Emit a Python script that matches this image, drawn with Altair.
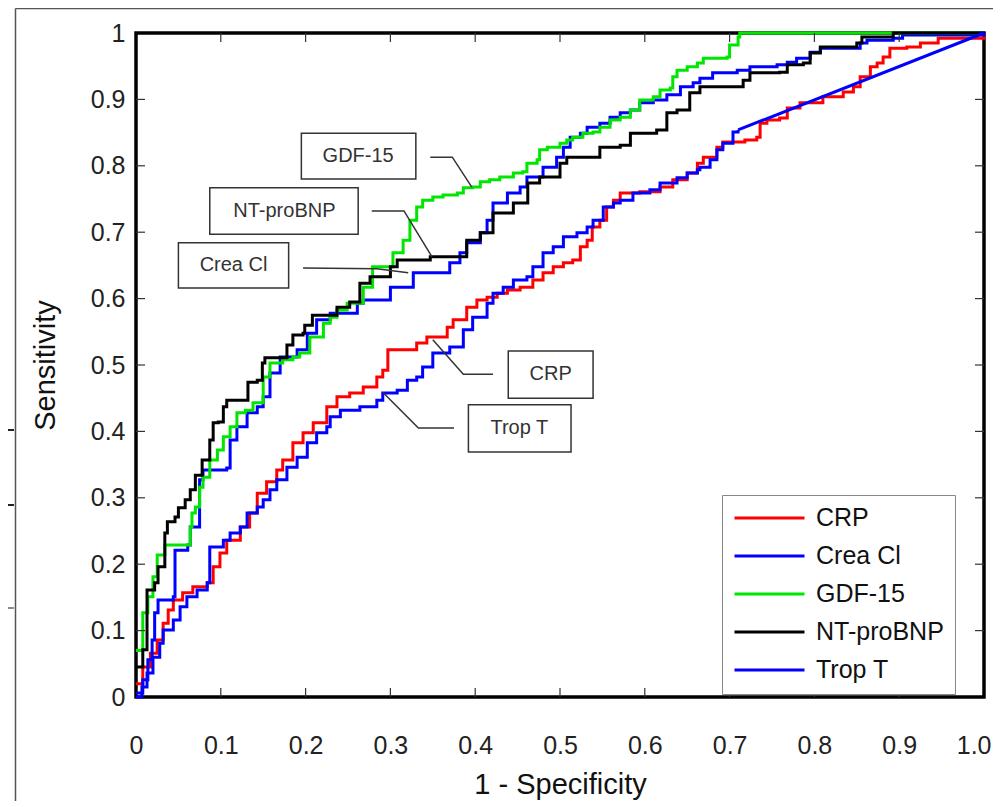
import altair as alt
import pandas as pd

# ---------------- data ----------------
series_names = ["CRP", "Crea Cl", "GDF-15", "NT-proBNP", "Trop T"]
series_colors = ["#ff0000", "#0000ff", "#00e600", "#000000", "#0000ff"]

crp_fpr = [0.0, 0.008, 0.017, 0.025, 0.032, 0.038, 0.044, 0.055, 0.067, 0.084, 0.091, 0.099, 0.107, 0.123,
           0.134, 0.143, 0.154, 0.166, 0.173, 0.185, 0.197, 0.209, 0.225, 0.237, 0.252, 0.268, 0.284, 0.291,
           0.297, 0.320, 0.331, 0.343, 0.355, 0.367, 0.374, 0.390, 0.402, 0.414, 0.426, 0.438, 0.453, 0.468,
           0.480, 0.492, 0.504, 0.515, 0.524, 0.532, 0.538, 0.547, 0.555, 0.563, 0.571, 0.594, 0.618, 0.633,
           0.650, 0.662, 0.669, 0.685, 0.692, 0.718, 0.732, 0.736, 0.744, 0.759, 0.768, 0.783, 0.810, 0.827,
           0.834, 0.846, 0.854, 0.866, 0.874, 0.881, 0.889, 0.909, 0.925, 0.946, 1.0]
crp_tpr = [0.02, 0.045, 0.066, 0.086, 0.111, 0.131, 0.146, 0.157, 0.166, 0.172, 0.196, 0.217, 0.236, 0.256,
           0.277, 0.307, 0.324, 0.342, 0.357, 0.383, 0.398, 0.413, 0.437, 0.452, 0.458, 0.467, 0.482, 0.492,
           0.523, 0.523, 0.533, 0.542, 0.542, 0.557, 0.568, 0.587, 0.598, 0.602, 0.608, 0.613, 0.617, 0.628,
           0.639, 0.648, 0.654, 0.658, 0.678, 0.688, 0.708, 0.718, 0.738, 0.748, 0.759, 0.761, 0.768, 0.779,
           0.789, 0.804, 0.813, 0.828, 0.836, 0.839, 0.843, 0.864, 0.869, 0.872, 0.887, 0.895, 0.904, 0.904,
           0.911, 0.919, 0.934, 0.949, 0.955, 0.964, 0.977, 0.979, 0.985, 0.992, 1.0]

crea_fpr = [0.0, 0.008, 0.014, 0.019, 0.022, 0.026, 0.044, 0.046, 0.061, 0.064, 0.075, 0.079, 0.107, 0.111,
            0.119, 0.131, 0.143, 0.150, 0.158, 0.170, 0.190, 0.202, 0.213, 0.229, 0.249, 0.261, 0.268, 0.300,
            0.327, 0.362, 0.370, 0.382, 0.390, 0.406, 0.414, 0.421, 0.438, 0.453, 0.461, 0.480, 0.496, 0.504,
            0.512, 0.524, 0.532, 0.547, 0.559, 0.571, 0.583, 0.594, 0.610, 0.626, 0.642, 0.657, 0.665, 0.680,
            0.709, 0.724, 0.756, 0.768, 0.779, 0.795, 0.807, 0.846, 0.854, 0.862, 0.893, 0.904, 1.0]
crea_tpr = [0.006, 0.026, 0.056, 0.086, 0.127, 0.146, 0.151, 0.221, 0.229, 0.256, 0.327, 0.342, 0.345, 0.387,
            0.407, 0.428, 0.437, 0.452, 0.488, 0.512, 0.523, 0.548, 0.568, 0.578, 0.578, 0.593, 0.598, 0.617,
            0.639, 0.639, 0.654, 0.669, 0.684, 0.699, 0.718, 0.744, 0.759, 0.768, 0.783, 0.798, 0.813, 0.828,
            0.843, 0.849, 0.858, 0.864, 0.873, 0.880, 0.884, 0.895, 0.899, 0.907, 0.919, 0.925, 0.932, 0.940,
            0.944, 0.949, 0.952, 0.956, 0.962, 0.971, 0.977, 0.977, 0.985, 0.989, 0.992, 0.997, 1.0]

gdf_fpr = [0.0, 0.008, 0.014, 0.020, 0.025, 0.034, 0.061, 0.064, 0.066, 0.070, 0.075, 0.079, 0.087, 0.096,
           0.103, 0.111, 0.119, 0.129, 0.138, 0.150, 0.158, 0.173, 0.185, 0.193, 0.205, 0.221, 0.229, 0.237,
           0.249, 0.268, 0.279, 0.303, 0.315, 0.323, 0.331, 0.338, 0.350, 0.362, 0.379, 0.386, 0.397, 0.406,
           0.417, 0.429, 0.445, 0.456, 0.461, 0.473, 0.476, 0.485, 0.500, 0.508, 0.515, 0.527, 0.539, 0.547,
           0.559, 0.571, 0.583, 0.594, 0.610, 0.618, 0.630, 0.633, 0.638, 0.650, 0.662, 0.669, 0.697, 0.700,
           0.710, 0.712, 1.0]
gdf_tpr = [0.07, 0.127, 0.151, 0.181, 0.214, 0.229, 0.229, 0.256, 0.277, 0.286, 0.316, 0.331, 0.357, 0.372,
           0.392, 0.407, 0.428, 0.432, 0.443, 0.482, 0.503, 0.508, 0.512, 0.518, 0.542, 0.563, 0.572, 0.583,
           0.593, 0.617, 0.648, 0.669, 0.688, 0.718, 0.738, 0.748, 0.753, 0.756, 0.759, 0.767, 0.768, 0.776,
           0.779, 0.783, 0.789, 0.791, 0.804, 0.809, 0.824, 0.828, 0.834, 0.839, 0.843, 0.849, 0.851, 0.858,
           0.869, 0.873, 0.884, 0.899, 0.904, 0.914, 0.917, 0.934, 0.944, 0.949, 0.955, 0.962, 0.964, 0.982,
           0.994, 1.0, 1.0]

bnp_fpr = [0.0, 0.008, 0.013, 0.022, 0.026, 0.034, 0.037, 0.046, 0.050, 0.058, 0.064, 0.070, 0.078, 0.087,
           0.091, 0.097, 0.103, 0.107, 0.126, 0.132, 0.143, 0.149, 0.152, 0.170, 0.178, 0.185, 0.197, 0.199,
           0.208, 0.229, 0.237, 0.252, 0.264, 0.276, 0.300, 0.308, 0.347, 0.382, 0.390, 0.406, 0.421, 0.445,
           0.462, 0.476, 0.492, 0.500, 0.508, 0.544, 0.547, 0.571, 0.583, 0.614, 0.626, 0.638, 0.653, 0.665,
           0.716, 0.724, 0.759, 0.768, 0.787, 0.795, 0.807, 0.850, 0.856, 0.893, 1.0]
bnp_tpr = [0.045, 0.071, 0.161, 0.172, 0.196, 0.247, 0.264, 0.271, 0.285, 0.297, 0.312, 0.334, 0.357, 0.387,
           0.413, 0.414, 0.437, 0.447, 0.447, 0.474, 0.477, 0.503, 0.511, 0.511, 0.530, 0.545, 0.548, 0.560,
           0.575, 0.575, 0.587, 0.595, 0.623, 0.633, 0.648, 0.658, 0.663, 0.663, 0.688, 0.699, 0.729, 0.744,
           0.774, 0.783, 0.783, 0.804, 0.813, 0.813, 0.828, 0.831, 0.849, 0.854, 0.880, 0.884, 0.910, 0.919,
           0.929, 0.940, 0.941, 0.952, 0.955, 0.970, 0.979, 0.985, 0.994, 1.0, 1.0]

trop_fpr = [0.0, 0.007, 0.013, 0.020, 0.028, 0.032, 0.044, 0.052, 0.060, 0.072, 0.084, 0.087, 0.103, 0.111,
            0.123, 0.131, 0.143, 0.150, 0.158, 0.166, 0.178, 0.190, 0.202, 0.213, 0.225, 0.229, 0.241, 0.264,
            0.284, 0.291, 0.308, 0.320, 0.331, 0.338, 0.350, 0.370, 0.386, 0.397, 0.414, 0.421, 0.433, 0.445,
            0.461, 0.468, 0.480, 0.492, 0.504, 0.520, 0.532, 0.539, 0.551, 0.563, 0.571, 0.586, 0.606, 0.618,
            0.638, 0.650, 0.662, 0.665, 0.677, 0.685, 0.692, 0.704, 0.710]
trop_tpr = [0.0, 0.015, 0.036, 0.060, 0.081, 0.101, 0.116, 0.136, 0.151, 0.161, 0.172, 0.226, 0.236, 0.247,
            0.256, 0.277, 0.286, 0.297, 0.312, 0.327, 0.346, 0.361, 0.383, 0.398, 0.407, 0.422, 0.432, 0.437,
            0.447, 0.458, 0.462, 0.477, 0.482, 0.497, 0.518, 0.527, 0.553, 0.572, 0.593, 0.608, 0.617, 0.628,
            0.633, 0.648, 0.669, 0.678, 0.693, 0.699, 0.708, 0.718, 0.738, 0.744, 0.748, 0.759, 0.764, 0.774,
            0.782, 0.789, 0.794, 0.798, 0.809, 0.824, 0.834, 0.851, 0.854]
# straight final segment of Trop T
trop_tail_fpr = [0.710, 1.0]
trop_tail_tpr = [0.854, 1.0]

tick_values = [0.1, 0.2, 0.3, 0.4, 0.5, 0.6, 0.7, 0.8, 0.9]
axis_values = [0, 0.1, 0.2, 0.3, 0.4, 0.5, 0.6, 0.7, 0.8, 0.9, 1]

# annotation call-outs (label boxes with leader lines), in data units
ann_labels = ["GDF-15", "NT-proBNP", "Crea Cl", "CRP", "Trop T"]
ann_box_x = [0.195, 0.087, 0.050, 0.439, 0.392]
ann_box_x2 = [0.330, 0.262, 0.180, 0.539, 0.513]
ann_box_y = [0.849, 0.767, 0.684, 0.521, 0.440]
ann_box_y2 = [0.780, 0.697, 0.616, 0.450, 0.369]
ann_text_x = [0.262, 0.175, 0.115, 0.489, 0.452]
ann_text_y = [0.815, 0.732, 0.650, 0.486, 0.405]
leader_x = [[0.347, 0.373, 0.396], [0.278, 0.316, 0.349], [0.197, 0.284, 0.321],
            [0.421, 0.386, 0.350], [0.375, 0.333, 0.291]]
leader_y = [[0.813, 0.813, 0.768], [0.732, 0.732, 0.663], [0.646, 0.645, 0.639],
            [0.486, 0.486, 0.538], [0.405, 0.405, 0.459]]

# ---------------- tables ----------------
curves = {
    "CRP": (crp_fpr, crp_tpr),
    "Crea Cl": (crea_fpr, crea_tpr),
    "GDF-15": (gdf_fpr, gdf_tpr),
    "NT-proBNP": (bnp_fpr, bnp_tpr),
    "Trop T": (trop_fpr, trop_tpr),
}
rows = []
for name in series_names:
    fx, fy = curves[name]
    for i, (a, b) in enumerate(zip(fx, fy)):
        rows.append({"series": name, "fpr": a, "tpr": b, "idx": i})
df_curves = pd.DataFrame(rows)
df_tail = pd.DataFrame({"series": ["Trop T"] * 2, "fpr": trop_tail_fpr, "tpr": trop_tail_tpr, "idx": [0, 1]})
df_ticks = pd.DataFrame({"fpr": tick_values, "tpr": tick_values})
df_boxes = pd.DataFrame({"label": ann_labels, "fpr": ann_box_x, "fpr2": ann_box_x2, "tpr": ann_box_y,
                         "tpr2": ann_box_y2})
df_texts = pd.DataFrame({"label": ann_labels, "fpr": ann_text_x, "tpr": ann_text_y})
lrows = []
for lab, lx, ly in zip(ann_labels, leader_x, leader_y):
    for i, (a, b) in enumerate(zip(lx, ly)):
        lrows.append({"label": lab, "fpr": a, "tpr": b, "idx": i})
df_leaders = pd.DataFrame(lrows)
one = pd.DataFrame({"a": [0]})

W, H = 848, 664
FONT = "Liberation Sans"
xs = alt.Scale(domain=[0, 1], nice=False)
ys = alt.Scale(domain=[0, 1], nice=False)

x_axis = alt.Axis(
    values=axis_values, labelExpr="datum.value == 0 ? '0' : format(datum.value, '.1f')",
    ticks=False, domain=False, grid=False, labelFlush=True, labelFlushOffset=7, labelOverlap=False,
    labelFontSize=25, labelFont=FONT, labelColor="#222", labelPadding=48, labelBaseline="middle",
    title="1 - Specificity", titleFontSize=29, titleFont=FONT, titleFontWeight="normal",
    titleColor="#111", titleX=424, titleY=87, titleBaseline="middle",
)
y_axis = alt.Axis(
    values=axis_values,
    labelExpr="datum.value == 0 ? '0' : datum.value == 1 ? '1' : format(datum.value, '.1f')",
    ticks=False, domain=False, grid=False, labelFlush=False, labelOverlap=False,
    labelFontSize=25, labelFont=FONT, labelColor="#222", labelPadding=11,
    title="Sensitivity", titleFontSize=29, titleFont=FONT, titleFontWeight="normal",
    titleColor="#111", titleX=-91, titleY=332, titleBaseline="middle",
)

X = alt.X("fpr:Q", scale=xs, axis=x_axis)
Y = alt.Y("tpr:Q", scale=ys, axis=y_axis)
color_scale = alt.Scale(domain=series_names, range=series_colors)

curves_layer = alt.Chart(df_curves).mark_line(strokeWidth=3, interpolate="step-after").encode(
    x=X, y=Y,
    color=alt.Color(
        "series:N", scale=color_scale,
        legend=alt.Legend(
            orient="none", legendX=586, legendY=462, title=None,
            symbolType="stroke", symbolSize=4900, symbolStrokeWidth=3, symbolOpacity=1,
            labelFontSize=25, labelFont=FONT, labelColor="#111", labelOffset=10,
            clipHeight=24, rowPadding=13, padding=11,
            strokeColor="#888", fillColor="white",
        ),
    ),
    order=alt.Order("idx:Q"),
)
tail_layer = alt.Chart(df_tail).mark_line(strokeWidth=3).encode(
    x=X, y=Y, color=alt.Color("series:N", scale=color_scale), order=alt.Order("idx:Q"),
)

tick_style = dict(color="#333", strokeWidth=1.2)
tick_bottom = alt.Chart(df_ticks).mark_rule(**tick_style).encode(x=X, y=alt.value(H), y2=alt.value(H - 9))
tick_top = alt.Chart(df_ticks).mark_rule(**tick_style).encode(x=X, y=alt.value(0), y2=alt.value(9))
tick_left = alt.Chart(df_ticks).mark_rule(**tick_style).encode(y=Y, x=alt.value(0), x2=alt.value(9))
tick_right = alt.Chart(df_ticks).mark_rule(**tick_style).encode(y=Y, x=alt.value(W), x2=alt.value(W - 9))

leader_layer = alt.Chart(df_leaders).mark_line(color="#333", strokeWidth=1.5).encode(
    x=X, y=Y, detail="label:N", order=alt.Order("idx:Q"))
box_layer = alt.Chart(df_boxes).mark_rect(fill="white", stroke="#333", strokeWidth=1.5).encode(
    x=X, x2="fpr2:Q", y=Y, y2="tpr2:Q")
text_layer = alt.Chart(df_texts).mark_text(font=FONT, fontSize=20, color="#333",
                                           align="center", baseline="middle").encode(
    x=X, y=Y, text="label:N")

# remnants of the neighbouring figure at the page edge
edge_style = dict(color="#555", strokeWidth=1.5)
edge_v = alt.Chart(one).mark_rule(**edge_style).encode(
    x=alt.value(-120.5), y=alt.value(-24.5), y2=alt.value(775))
edge_h = alt.Chart(one).mark_rule(**edge_style).encode(
    x=alt.value(-120.5), x2=alt.value(870), y=alt.value(-24.5))
dash1 = alt.Chart(one).mark_rule(color="#222", strokeWidth=2).encode(
    x=alt.value(-130), x2=alt.value(-122), y=alt.value(397))
dash2 = alt.Chart(one).mark_rule(color="#222", strokeWidth=2).encode(
    x=alt.value(-130), x2=alt.value(-122), y=alt.value(472))
dash3 = alt.Chart(one).mark_rule(color="#666", strokeWidth=1.5).encode(
    x=alt.value(-130), x2=alt.value(-122), y=alt.value(575))

chart = alt.layer(
    curves_layer, tail_layer,
    tick_bottom, tick_top, tick_left, tick_right,
    leader_layer, box_layer, text_layer,
    edge_v, edge_h, dash1, dash2, dash3,
).properties(
    width=W, height=H,
    autosize=alt.AutoSizeParams(type="none"),
    padding={"left": 128, "top": 25, "right": 9, "bottom": 104},
).configure(
    font=FONT
).configure_view(
    stroke="black", strokeWidth=3.5
)

chart.save("out.html", embed_options={"renderer": "svg", "actions": False})
